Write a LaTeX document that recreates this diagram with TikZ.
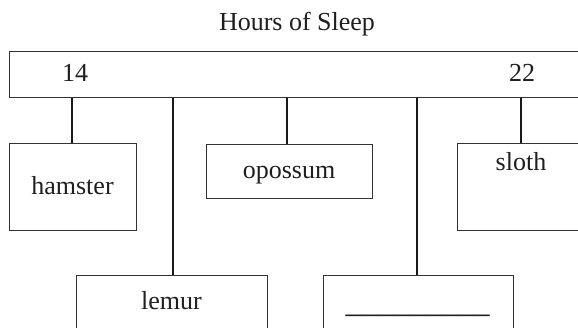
\documentclass[tikz,border=0pt]{standalone}
\usepackage{fontspec}
\setmainfont{Liberation Serif}
\begin{document}
\begin{tikzpicture}[x=1pt,y=-1pt,
  box/.style={draw=black!80, line width=1pt, inner sep=0pt, fill=white},
  conn/.style={draw=black!90, line width=2pt},
  lbl/.style={font=\fontsize{26}{30}\selectfont, text=black!88, inner sep=0pt}]
\useasboundingbox (0,0) rectangle (578,328);
\clip (0,0) rectangle (578,328);
% title
\node[lbl, anchor=base] (title) at (297,31) {Hours of Sleep};
% top bar
\node[box, minimum width=591pt, minimum height=46pt] (bar) at (304.5,75) {};
\node[lbl, anchor=base] (n14) at (75,82) {14};
\node[lbl, anchor=base] (n22) at (522,82) {22};
% boxes
\node[box, minimum width=127pt, minimum height=87pt] (hamster) at (72.5,187.5) {};
\node[lbl, anchor=base] (thamster) at (72.5,195) {hamster};
\node[box, minimum width=166pt, minimum height=54pt] (opossum) at (289,172) {};
\node[lbl, anchor=base] (topossum) at (289,179) {opossum};
\node[box, minimum width=143pt, minimum height=87pt] (sloth) at (528.5,187.5) {};
\node[lbl, anchor=base] (tsloth) at (521,171) {sloth};
\node[box, minimum width=191pt, minimum height=80pt] (lemur) at (171.5,316) {};
\node[lbl, anchor=base] (tlemur) at (171.5,310) {lemur};
\node[box, minimum width=190pt, minimum height=80pt] (blank) at (418,316) {};
\node[lbl, anchor=base, font=\fontsize{32}{36}\selectfont] (tblank) at (417.5,313) {\_\_\_\_\_\_\_\_\_};
% connector anchor points on the bar
\coordinate (cham) at (72,98);
\coordinate (clem) at (173,98);
\coordinate (copo) at (287,98);
\coordinate (cbla) at (417,98);
\coordinate (cslo) at (521,98);
\draw[conn] (cham) -- (cham |- hamster.north);
\draw[conn] (clem) -- (clem |- lemur.north);
\draw[conn] (copo) -- (copo |- opossum.north);
\draw[conn] (cbla) -- (cbla |- blank.north);
\draw[conn] (cslo) -- (cslo |- sloth.north);
\end{tikzpicture}
\end{document}
